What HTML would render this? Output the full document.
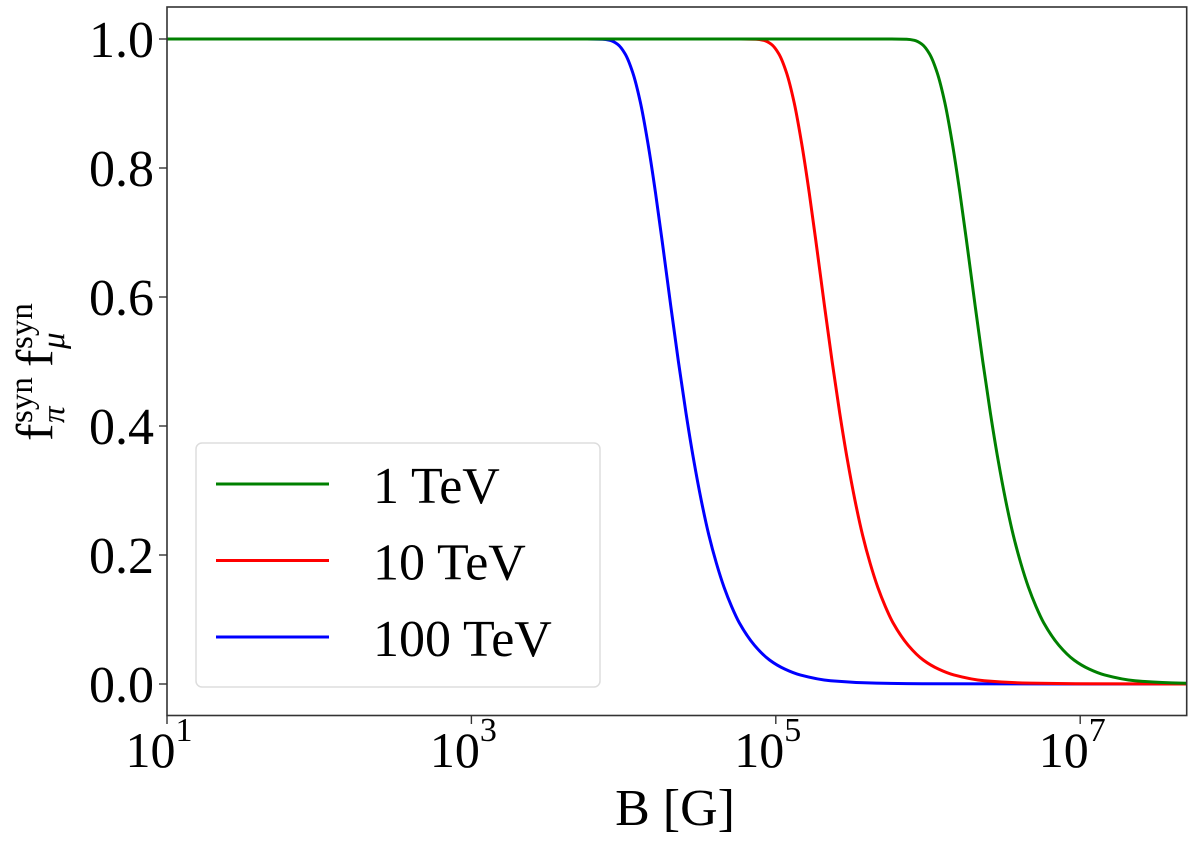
<!DOCTYPE html>
<html><head><meta charset="utf-8"><style>
html,body{margin:0;padding:0;background:#fff}
svg text{font-family:"Liberation Serif",serif;fill:#000}
</style></head><body>
<svg id="chart" width="1200" height="846" viewBox="0 0 1200 846" xmlns="http://www.w3.org/2000/svg">
<rect x="0" y="0" width="1200" height="846" fill="#fff"/>
<g id="series"></g>
<rect x="167" y="7" width="1019.7" height="708.5" fill="none" stroke="#333" stroke-width="1.6"/>
<g id="axes"></g>
<text x="675" y="825" font-size="52" text-anchor="middle">B [G]</text>
<g transform="translate(52,363) rotate(-90)">
  <text x="-78" y="0" font-size="52">f</text>
  <text x="-60" y="-20" font-size="33">syn</text>
  <text x="-60" y="12" font-size="33" font-style="italic">π</text>
  <text x="-4" y="0" font-size="52">f</text>
  <text x="14" y="-20" font-size="33">syn</text>
  <text x="14" y="12" font-size="33" font-style="italic">μ</text>
</g>
<g id="legend">
<rect x="196" y="443" width="404" height="244" rx="6" fill="#fff" fill-opacity="0.8" stroke="#ddd" stroke-width="1.5"/>
</g>
</svg>
<script>
const xTicks = [1, 3, 5, 7];
const yTicks = [0.0, 0.2, 0.4, 0.6, 0.8, 1.0];
const yTickLabels = ["0.0", "0.2", "0.4", "0.6", "0.8", "1.0"];
const seriesNames = ["1 TeV", "10 TeV", "100 TeV"];
const seriesColors = ["#008000", "#ff0000", "#0000ff"];
const logB1 = [1, 5.56, 5.76, 5.86, 5.91, 5.96, 6.01, 6.06, 6.11, 6.16, 6.21, 6.26, 6.31, 6.36, 6.41, 6.46, 6.51, 6.56, 6.61, 6.66, 6.71, 6.76, 6.86, 6.96, 7.06, 7.16, 7.36, 7.66, 7.7];
const vals1 = [1, 1, 1, 0.9996, 0.998, 0.992, 0.977, 0.948, 0.902, 0.838, 0.761, 0.675, 0.586, 0.5, 0.42, 0.348, 0.285, 0.231, 0.187, 0.15, 0.12, 0.095, 0.06, 0.037, 0.023, 0.014, 0.005, 0.0013, 0.0012];
const logB10 = [1, 4.57, 4.77, 4.87, 4.92, 4.97, 5.02, 5.07, 5.12, 5.17, 5.22, 5.27, 5.32, 5.37, 5.42, 5.47, 5.52, 5.57, 5.62, 5.67, 5.72, 5.77, 5.87, 5.97, 6.07, 6.17, 6.37, 6.67, 6.97, 7.7];
const vals10 = [1, 1, 1, 0.9996, 0.998, 0.992, 0.977, 0.948, 0.902, 0.838, 0.761, 0.675, 0.586, 0.5, 0.42, 0.348, 0.285, 0.231, 0.187, 0.15, 0.12, 0.095, 0.06, 0.037, 0.023, 0.014, 0.005, 0.0013, 0.0004, 0];
const logB100 = [1, 3.56, 3.76, 3.86, 3.91, 3.96, 4.01, 4.06, 4.11, 4.16, 4.21, 4.26, 4.31, 4.36, 4.41, 4.46, 4.51, 4.56, 4.61, 4.66, 4.71, 4.76, 4.86, 4.96, 5.06, 5.16, 5.36, 5.66, 5.96, 7.7];
const vals100 = [1, 1, 1, 0.9996, 0.998, 0.992, 0.977, 0.948, 0.902, 0.838, 0.761, 0.675, 0.586, 0.5, 0.42, 0.348, 0.285, 0.231, 0.187, 0.15, 0.12, 0.095, 0.06, 0.037, 0.023, 0.014, 0.005, 0.0013, 0.0004, 0];

const NS = "http://www.w3.org/2000/svg";
const X0 = 167, DEC = 152.2;
function xs(l){ return X0 + (l - 1) * DEC; }
function ys(v){ return 684 - v * 645; }

const axes = document.getElementById('axes');
xTicks.forEach(function(t){
  const ln = document.createElementNS(NS,'line');
  ln.setAttribute('x1', xs(t)); ln.setAttribute('x2', xs(t));
  ln.setAttribute('y1', 715.5); ln.setAttribute('y2', 724);
  ln.setAttribute('stroke', '#333'); ln.setAttribute('stroke-width', 1.4);
  
  
  axes.appendChild(ln);
  const tx = document.createElementNS(NS,'text');
  tx.setAttribute('x', xs(t) - 8); tx.setAttribute('y', 767);
  tx.setAttribute('font-size', '50'); tx.setAttribute('text-anchor', 'middle');
  tx.innerHTML = '10<tspan font-size="34" dy="-26">' + t + '</tspan>';
  
  
  axes.appendChild(tx);
});
yTicks.forEach(function(t, i){
  const ln = document.createElementNS(NS,'line');
  ln.setAttribute('x1', 159); ln.setAttribute('x2', 167);
  ln.setAttribute('y1', ys(t)); ln.setAttribute('y2', ys(t));
  ln.setAttribute('stroke', '#333'); ln.setAttribute('stroke-width', 1.4);
  
  
  axes.appendChild(ln);
  const tx = document.createElementNS(NS,'text');
  tx.setAttribute('x', 154); tx.setAttribute('y', ys(t) + 18);
  tx.setAttribute('font-size', '52'); tx.setAttribute('text-anchor', 'end');
  tx.textContent = yTickLabels[i];
  
  
  axes.appendChild(tx);
});

function monotonePath(px, py){
  const n = px.length, dx = [], m = [], t = [];
  for (let i = 0; i < n - 1; i++) { dx.push(px[i+1]-px[i]); m.push((py[i+1]-py[i])/dx[i]); }
  t.push(m[0]);
  for (let i = 1; i < n - 1; i++) {
    if (m[i-1]*m[i] <= 0) t.push(0);
    else { const w1 = 2*dx[i]+dx[i-1], w2 = dx[i]+2*dx[i-1]; t.push((w1+w2)/(w1/m[i-1]+w2/m[i])); }
  }
  t.push(m[n-2]);
  let d = 'M' + px[0] + ',' + py[0];
  for (let i = 0; i < n - 1; i++) {
    const h = dx[i]/3;
    d += ' C' + (px[i]+h) + ',' + (py[i]+t[i]*h) + ' ' + (px[i+1]-h) + ',' + (py[i+1]-t[i+1]*h) + ' ' + px[i+1] + ',' + py[i+1];
  }
  return d;
}

const layer = document.getElementById('series');
const allX = [logB1, logB10, logB100];
const allY = [vals1, vals10, vals100];
const keys = ['line-1tev', 'line-10tev', 'line-100tev'];
[2,1,0].forEach(function(s){
  const px = allX[s].map(xs), py = allY[s].map(ys);
  const path = document.createElementNS(NS,'path');
  path.setAttribute('d', monotonePath(px, py));
  path.setAttribute('fill', 'none');
  path.setAttribute('stroke', seriesColors[s]);
  path.setAttribute('stroke-width', 3);
  
  
  layer.appendChild(path);
});

const legend = document.getElementById('legend');
seriesNames.forEach(function(n, i){
  const y = 484 + i * 76.5;
  const ln = document.createElementNS(NS,'line');
  ln.setAttribute('x1', 216); ln.setAttribute('x2', 329);
  ln.setAttribute('y1', y); ln.setAttribute('y2', y);
  ln.setAttribute('stroke', seriesColors[i]); ln.setAttribute('stroke-width', 3);
  
  
  legend.appendChild(ln);
  const tx = document.createElementNS(NS,'text');
  tx.setAttribute('x', 373); tx.setAttribute('y', y + 19);
  tx.setAttribute('font-size', '52');
  tx.textContent = n;
  
  
  legend.appendChild(tx);
});
</script>
</body></html>
